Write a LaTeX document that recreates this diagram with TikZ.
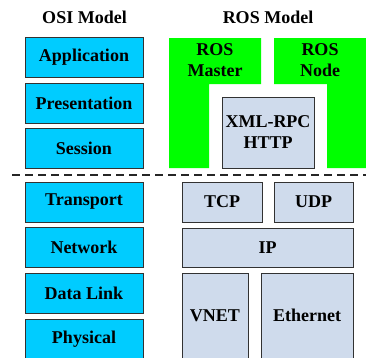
\documentclass[tikz,border=0pt]{standalone}
\usepackage{fontspec}
\setmainfont{Liberation Serif}
\definecolor{layercyan}{RGB}{0,204,255}
\definecolor{protoblue}{RGB}{207,219,236}
\definecolor{rosgreen}{RGB}{0,255,0}
\definecolor{edgegray}{RGB}{50,50,50}
\begin{document}
\begin{tikzpicture}[x=1pt,y=-1pt,
  lbl/.style={font=\fontsize{18}{21}\selectfont\bfseries, align=center, inner sep=0pt},
  osibox/.style={lbl, draw=edgegray, line width=0.8pt, fill=layercyan,
    minimum width=118pt, minimum height=40pt},
  protobox/.style={lbl, draw=edgegray, line width=0.8pt, fill=protoblue},
  divider/.style={line width=2pt, dash pattern=on 8pt off 5pt, draw=black!85}]
\useasboundingbox (0,0) rectangle (366,357);

% column titles
\node[lbl] (osititle) at (84.5,17) {OSI Model};
\node[lbl] (rostitle) at (268,17) {ROS Model};

% OSI layers
\node[osibox] (app)  at (84,57)    {Application};
\node[osibox] (pres) at (84,103)   {Presentation};
\node[osibox] (sess) at (84,148.5) {Session};
\node[osibox] (trans) at (84,202)  {Transport};
\node[osibox] (net)  at (84,247.5) {Network};
\node[osibox] (dlink) at (84,293)  {Data Link};
\node[osibox] (phys) at (84,339)   {Physical};

% ROS application layer: master and node blocks
\fill[rosgreen] (169,38) -- (261,38) -- (261,84) -- (209,84) -- (209,168) -- (169,168) -- cycle;
\fill[rosgreen] (274,38) -- (366,38) -- (366,168) -- (327,168) -- (327,84) -- (274,84) -- cycle;
\node[lbl] (master) at (215,60.5) {ROS\\Master};
\node[lbl] (rosnode) at (320,60.5) {ROS\\Node};
\node[protobox, minimum width=92pt, minimum height=71pt] (xmlrpc) at (268,132.5) {XML-RPC\\HTTP};

% divider between upper and lower layers
\coordinate (divl) at (12,175);
\coordinate (divr) at (366,175);
\draw[divider] (divl) -- (divr);

% transport, network and link protocols
\node[protobox, minimum width=80pt, minimum height=40pt] (tcp) at (222,202) {TCP};
\node[protobox, minimum width=79pt, minimum height=40pt] (udp) at (313.5,202) {UDP};
\node[protobox, minimum width=171pt, minimum height=39pt] (ip) at (267.5,247.5) {IP};
\node[protobox, minimum width=66pt, minimum height=90pt, text depth=5pt] (vnet) at (215,318) {VNET};
\node[protobox, minimum width=92pt, minimum height=90pt, text depth=5pt] (eth) at (307,318) {Ethernet};
\end{tikzpicture}
\end{document}
